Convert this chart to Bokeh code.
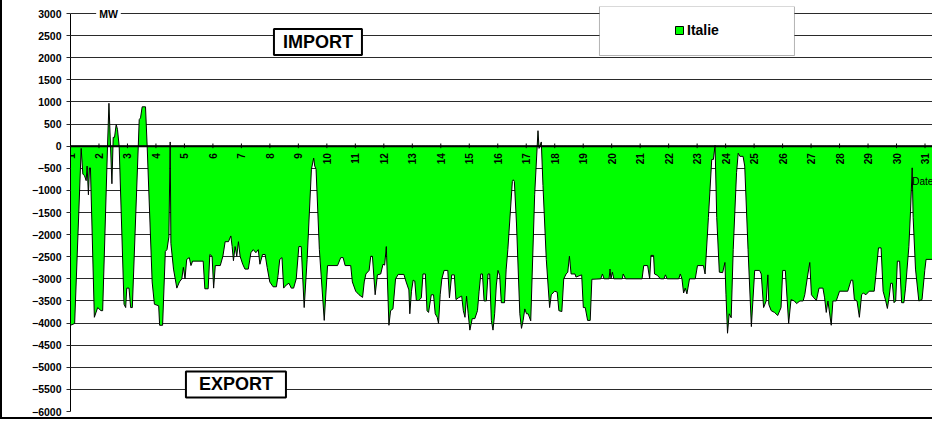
import numpy as np
from bokeh.plotting import figure
from bokeh.models import Range1d, FixedTicker, Span, Label, BoxAnnotation, Legend, LegendItem
from bokeh.embed import file_html
from bokeh.resources import INLINE
from bokeh.core.properties import value

# ---------------- data ----------------
hours = [0, 3.5, 9, 10.4, 11.8, 13.2, 14, 15.1, 16, 16.8, 20.1, 22.9, 25.7, 27.1, 31.2, 32.4,
         34.9, 36, 37.1, 38.5, 39.6, 41, 45.1, 46.5, 47.4, 49.3, 50.7, 52.1, 57.1, 57.9, 59,
         60.4, 63.2, 64.6, 68.8, 70.7, 74.3, 75.1, 77.6, 79.9, 81.3, 82.9, 84, 84.6, 86.8,
         89.6, 91.8, 93.8, 95.1, 96.5, 97.9, 100.1, 101.5, 102.9, 111.8, 113.2, 116, 117.4,
         119.3, 120.6, 122, 126.2, 128.4, 130.3, 133.1, 135.1, 136.2, 137.3, 138.7, 140.1,
         141.5, 142.9, 145.1, 147, 149.8, 152, 154, 156.2, 158.2, 159.6, 161.8, 164, 165.7,
         167.9, 170.7, 173.5, 174.9, 176.3, 178.2, 179.6, 181.8, 184.1, 186, 188, 190.2,
         192.4, 194.4, 196.9, 199.4, 203, 204.9, 205.8, 206.9, 209.7, 213.8, 216.6, 225,
         227.7, 229.7, 231.4, 236.1, 237.5, 240.3, 243.1, 246.1, 247.5, 248.9, 251.6, 253,
         254.4, 256.7, 258.6, 261.4, 263.3, 264.7, 266.1, 268.3, 269.7, 271.7, 273.9, 276.1,
         280.9, 282.8, 285.1, 285.9, 287.3, 288.7, 290.1, 291.4, 293.4, 295.6, 297, 299,
         300.4, 301.7, 304, 305.9, 307.3, 309, 310.1, 311.5, 312.9, 314.8, 317.9, 319.3,
         321.2, 323.4, 324.8, 326.8, 329.6, 331, 332.4, 333.7, 335.1, 336.5, 338.5, 340.7,
         342.9, 344.3, 345.7, 347.1, 348.5, 350.4, 351.8, 353.2, 354.6, 356, 357.4, 358.8,
         360.2, 361.6, 363, 365.7, 367.1, 368.5, 372.3, 373.1, 374, 375.8, 378.6, 380, 381.4,
         382.8, 384.2, 385.6, 387.8, 391.1, 393.9, 394.8, 396.7, 398.1, 400.9, 403.7, 405.1,
         406.5, 407.9, 410.1, 411.5, 414, 415.6, 417.6, 419, 420.4, 421.8, 425.1, 425.9,
         430.7, 432.1, 433.7, 435.7, 437.9, 439.3, 446.8, 448.2, 449.6, 453.8, 454.6, 455.4,
         456.6, 457.8, 464.9, 465.7, 467.7, 481.6, 483, 486.3, 488, 489.1, 491.3, 492.1,
         494.4, 497.1, 500, 501.3, 502.7, 512.5, 513.8, 515.2, 516.6, 518, 519.4, 521.6,
         526.4, 528.3, 533.3, 534.7, 537.5, 540.3, 541.7, 543.1, 544.5, 546.7, 549.5, 551.4,
         552.3, 553.6, 555, 556.7, 558.4, 561.2, 562.6, 564, 566.7, 568.1, 570.9, 573.7,
         576.5, 580.6, 582, 584, 586.2, 587.6, 588.4, 590.4, 593.2, 595.9, 598.7, 600.1,
         602.3, 605.1, 607.1, 609.9, 611.8, 614.6, 617.3, 618.7, 620.7, 622.9, 624.3, 626.3,
         628.5, 630.7, 634, 635.4, 636.8, 638.2, 641, 642.4, 645.2, 648, 654.9, 657.7, 659.1,
         660.5, 662.7, 664.7, 666.6, 668, 670.2, 673, 677.2, 678.6, 680.8, 683, 684.7, 686.9,
         688.3, 689.7, 691.1, 692.5, 693.9, 695.3, 696.7, 698.6, 700.3, 702.2, 703.6, 706.4,
         707.8, 709.2, 710, 712, 714.8, 717.5, 719.8, 720.9, 728.1, 730.1, 732.8, 734.2]

italie_mw = [-4050, -4010, -50, -630, -670, -780, -450, -1100, -490, -490, -3870, -3650, -3720,
             -3720, 0, 970, -850, 200, 200, 490, 380, 0, -3575, -3650, -3210, -3210, -3650,
             -3650, 0, 600, 640, 890, 890, 0, -3070, -3575, -3610, -4050, -4050, -2380, -2340,
             -2050, 95, -2200, -2780, -3210, -3070, -3000, -2740, -3000, -2560, -2520, -2700,
             -2600, -2600, -3225, -3225, -2450, -2490, -3210, -2700, -2700, -2490, -2160, -2160,
             -2030, -2270, -2590, -2270, -2490, -2160, -2490, -2670, -2780, -2780, -2410, -2340,
             -2410, -2340, -2670, -2450, -2450, -2740, -3070, -3180, -3180, -2920, -2560, -2520,
             -3210, -3140, -3100, -3210, -3210, -3000, -2270, -2270, -3650, -2560, -520, -270,
             -450, -520, -2340, -3940, -2700, -2700, -2520, -2520, -2700, -2700, -3070, -3280,
             -3360, -3420, -3070, -2890, -2810, -2490, -2490, -3360, -2910, -2890, -2670, -2690,
             -2270, -4050, -3720, -3680, -3000, -2900, -2900, -3070, -3250, -3790, -3280, -3030,
             -3050, -3490, -3490, -3430, -2890, -2890, -3720, -3760, -3360, -3360, -3790, -3870,
             -4010, -3360, -3000, -2810, -2810, -3430, -2910, -2910, -3470, -3430, -3390, -3720,
             -3870, -3390, -3790, -4160, -3900, -3900, -3720, -3280, -2890, -2890, -3500, -3500,
             -2890, -2890, -3940, -4160, -3790, -3140, -2810, -2920, -3540, -3540, -2780, -2340,
             -800, -760, -800, -1760, -3790, -4120, -3940, -3680, -3790, -3790, -3950, -1100, 350,
             -50, 95, -890, -2560, -3650, -3360, -3320, -3280, -3300, -3720, -3740, -3000, -2890,
             -2850, -2490, -2890, -2890, -2960, -2910, -3650, -3650, -3940, -3940, -3010, -3000,
             -2890, -3000, -3000, -2780, -3000, -2850, -3000, -3000, -2890, -3000, -3000, -2700,
             -2700, -3000, -2470, -2470, -2890, -2920, -3000, -3000, -2910, -3000, -3000, -2890,
             -3000, -3320, -3210, -3340, -3000, -3000, -2700, -2700, -2890, -1610, -300, -300, 20,
             -1610, -2850, -2860, -2630, -3360, -4230, -3790, -3880, -2340, -600, -160, -230, -230,
             -450, -2340, -4080, -2810, -2810, -2890, -3650, -3500, -2910, -3580, -3720, -3760,
             -3830, -3650, -2810, -2810, -4010, -3470, -3500, -3560, -3500, -3500, -3360, -3000,
             -2630, -3360, -3430, -3490, -3210, -3210, -3430, -3760, -3500, -4050, -3500, -3500,
             -3280, -3280, -3030, -3030, -3470, -3500, -3870, -3360, -3320, -3360, -3280, -3280,
             -2920, -2300, -2300, -3280, -3500, -3670, -3430, -3100, -3100, -3540, -3500, -2600,
             -2600, -3540, -3540, -3210, -2270, -1470, -490, -1610, -2780, -3500, -3470, -2810,
             -2560, -2560, -1180, -490, -420]

days = list(range(1, 32))
day_labels = [str(d) for d in days]
y_ticks = [-6000, -5500, -5000, -4500, -4000, -3500, -3000, -2500, -2000, -1500, -1000,
           -500, 0, 500, 1000, 1500, 2000, 2500, 3000]
series_name = "Italie"

FONT = "Liberation Sans"

# ---------------- figure ----------------
p = figure(width=932, height=419, output_backend="svg", toolbar_location=None,
           x_range=Range1d(0, 728), y_range=Range1d(-6000, 3158.3),
           min_border_left=68, min_border_right=0, min_border_top=6, min_border_bottom=8,
           x_axis_location=None)
p.styles = {"border-left": "2px solid #000000", "border-bottom": "2px solid #000000"}
p.outline_line_color = None
p.background_fill_color = "white"
p.border_fill_color = "white"

for g in p.grid:
    if g.dimension == 0:
        g.visible = False
p.ygrid.grid_line_color = "#2a2a2a"
p.ygrid.grid_line_width = 1

yax = p.yaxis[0]
yax.ticker = FixedTicker(ticks=y_ticks)
yax.bounds = (-6000, 3000)
yax.axis_line_color = "black"
yax.axis_line_width = 1
yax.major_tick_out = 4
yax.major_tick_in = 0
yax.major_tick_line_color = "#2a2a2a"
yax.minor_tick_line_color = None
yax.major_label_standoff = 5
yax.major_label_text_font = FONT
yax.major_label_text_font_style = "bold"
yax.major_label_text_font_size = "10.5px"
yax.major_label_text_color = "black"

# area
xs = np.asarray(hours, dtype=float)
ys = np.asarray(italie_mw, dtype=float)
patch_x = np.concatenate([xs, xs[::-1]])
patch_y = np.concatenate([ys, np.zeros_like(ys)])
area = p.patch(patch_x, patch_y, fill_color="#00FF00", line_color="black", line_width=1)

# zero axis line with day ticks and labels
p.add_layout(Span(location=0, dimension="width", line_color="black", line_width=2))
tick_x = [(d - 1) * 24 for d in days]
p.segment(x0=tick_x, y0=[-45] * len(days), x1=tick_x, y1=[60] * len(days),
          line_color="black", line_width=1)
p.text(x=tick_x, y=[0] * len(days), text=day_labels, angle=np.pi / 2,
       text_align="right", text_baseline="middle", y_offset=7,
       text_font=value(FONT), text_font_style="bold", text_font_size="10px",
       text_color="black")

# legend box + legend item
p.add_layout(BoxAnnotation(left=445.7, right=610.0, bottom=2050, top=3158,
                           fill_color="white", fill_alpha=1.0,
                           line_color="black", line_width=1))
legend = Legend(items=[LegendItem(label=series_name, renderers=[area])],
                location=(604, 373), padding=0, margin=0, spacing=0,
                border_line_color=None, background_fill_alpha=0,
                glyph_width=10, glyph_height=10, label_standoff=3, label_height=14,
                label_text_font=FONT, label_text_font_style="bold",
                label_text_font_size="14px", label_text_color="black")
p.add_layout(legend)

# texts
p.add_layout(Label(x=32.0, y=3000, text="MW", text_align="center", text_baseline="middle",
                   text_font=FONT, text_font_style="bold", text_font_size="10.5px",
                   text_color="black", background_fill_color="white", padding=(3, 0)))
p.add_layout(Label(x=208.5, y=2355, text="IMPORT", text_align="center", text_baseline="middle",
                   text_font=FONT, text_font_style="bold", text_font_size="18px",
                   text_color="black", background_fill_color="white",
                   border_line_color="black", border_line_width=2, padding=(9, 3)))
p.add_layout(Label(x=139.4, y=-5389, text="EXPORT", text_align="center", text_baseline="middle",
                   text_font=FONT, text_font_style="bold", text_font_size="18px",
                   text_color="black", background_fill_color="white",
                   border_line_color="black", border_line_width=2, padding=(13, 3)))
p.add_layout(Label(x=727, y=-807, text="Date", text_align="right", text_baseline="middle",
                   text_font=FONT, text_font_size="10px", text_color="black"))

open("out.html", "w").write(file_html(p, INLINE))
